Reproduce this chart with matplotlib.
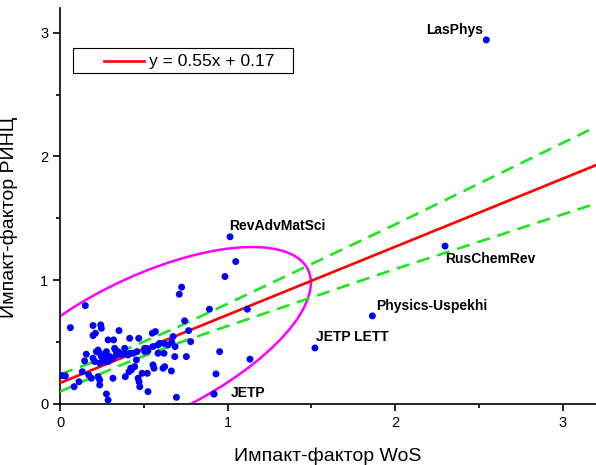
import numpy as np
import matplotlib.pyplot as plt
from matplotlib.patches import Ellipse, Rectangle
from matplotlib.ticker import MultipleLocator

plt.rcParams['font.family'] = ['Liberation Sans', 'DejaVu Sans']

# journals: impact factor WoS (x) vs RINC (y)
wos = [0.062, 0.197, 0.243, 0.247, 0.197, 0.211, 0.352, 0.287, 0.320, 0.416,
       0.470, 0.551, 0.569, 0.744, 0.768, 0.780, 0.675, 0.685, 0.754, 0.665,
       0.625, 0.621, 0.585, 0.645, 0.667, 0.525, 0.506, 0.515, 0.555, 0.561,
       0.521, 0.525, 0.466, 0.472, 0.476, 0.490, 0.422, 0.412, 0.390, 0.456,
       0.460, 0.436, 0.406, 0.386, 0.366, 0.346, 0.330, 0.336, 0.316, 0.296,
       0.277, 0.267, 0.247, 0.237, 0.217, 0.227, 0.197, 0.207, 0.157, 0.147,
       0.237, 0.267, 0.287, 0.316, 0.237, 0.237, 0.227, 0.187, 0.171, 0.133,
       0.084, 0.113, 0.012, 0.032, 0.277, 0.287, 0.386, 0.416, 0.326, 0.505,
       0.555, 0.595, 0.621, 0.695, 0.615, 0.585, 0.446, 0.426, 0.687,
       1.049, 0.985, 0.726, 0.712, 0.151, 0.892, 1.118, 0.953, 1.134, 0.931,
       0.919]
rinc = [0.617, 0.634, 0.639, 0.612, 0.553, 0.572, 0.593, 0.518, 0.518, 0.531,
        0.531, 0.572, 0.585, 0.672, 0.593, 0.504, 0.545, 0.383, 0.383, 0.267,
        0.302, 0.410, 0.477, 0.477, 0.500, 0.429, 0.423, 0.450, 0.316, 0.289,
        0.248, 0.100, 0.208, 0.180, 0.140, 0.248, 0.289, 0.261, 0.221, 0.356,
        0.423, 0.410, 0.396, 0.410, 0.400, 0.423, 0.437, 0.396, 0.370, 0.383,
        0.423, 0.396, 0.383, 0.410, 0.423, 0.436, 0.370, 0.343, 0.402, 0.348,
        0.330, 0.343, 0.343, 0.208, 0.194, 0.154, 0.221, 0.208, 0.235, 0.261,
        0.140, 0.180, 0.229, 0.227, 0.081, 0.032, 0.450, 0.410, 0.450, 0.450,
        0.464, 0.490, 0.490, 0.054, 0.289, 0.410, 0.302, 0.275, 0.464,
        1.151, 1.030, 0.944, 0.887, 0.795, 0.766, 0.766, 0.423, 0.362, 0.243,
        0.081]

# named journals
named = ['LasPhys', 'RusChemRev', 'Physics-Uspekhi', 'JETP LETT', 'RevAdvMatSci', 'JETP']
named_x = [2.545, 2.299, 1.865, 1.522, 1.015, 0.919]
named_y = [2.942, 1.276, 0.712, 0.453, 1.351, 0.081]
label_off = [(-2, 2, 'right', 'bottom'), (0, -4, 'left', 'top'), (3, 2, 'left', 'bottom'),
             (1, 3, 'left', 'bottom'), (-1, 3, 'left', 'bottom'), (12, 1, 'left', 'center')]

# regression line and confidence band
fit_label = 'y = 0.55x + 0.17'
fit_x = [0, 3.2]
fit_y = [0.17, 1.93]
band_x = [0, 0.2, 0.4, 0.7, 1.0, 1.5, 2.0, 2.5, 3.2]
band_up = [0.24, 0.34, 0.445, 0.62, 0.81, 1.13, 1.45, 1.78, 2.24]
band_lo = [0.10, 0.22, 0.335, 0.49, 0.63, 0.86, 1.09, 1.31, 1.62]

fig = plt.figure(figsize=(5.96, 4.65), dpi=100)
ax = fig.add_axes([0.1007, 0.1312, 0.8993, 0.8516])

ax.add_patch(Ellipse((0.52, 0.46), 2.31, 1.05, angle=36.7, fill=False,
                     edgecolor='#ff00ff', linewidth=1.8, zorder=2))
ax.plot(band_x, band_up, color='#1ee61e', linestyle=(0, (5, 3)), linewidth=1.9, zorder=3)
ax.plot(band_x, band_lo, color='#1ee61e', linestyle=(0, (5, 3)), linewidth=1.9, zorder=3)
ax.plot(fit_x, fit_y, color='#ff0000', linewidth=1.9, zorder=4)
ax.scatter(wos + named_x, rinc + named_y, s=25, color='#0000ff', edgecolors='none', zorder=5)

for name, x, y, (dx, dy, ha, va) in zip(named, named_x, named_y, label_off):
    ax.annotate(name, (x, y), xytext=(dx, dy), textcoords='offset points',
                ha=ha, va=va, fontsize=10, fontweight='bold')

# legend box drawn by hand to match the original spacing
ax.add_patch(Rectangle((0.0243, 0.836), 0.41, 0.063, transform=ax.transAxes,
                       fill=False, edgecolor='black', linewidth=0.8, zorder=6))
ax.plot([0.082, 0.157], [0.867, 0.867], transform=ax.transAxes,
        color='#ff0000', linewidth=1.9, zorder=6)
ax.text(0.166, 0.866, fit_label, transform=ax.transAxes, fontsize=12.5,
        va='center', ha='left', zorder=6)

ax.set_xlim(0, 3.2)
ax.set_ylim(0, 3.2)
ax.xaxis.set_major_locator(MultipleLocator(1))
ax.xaxis.set_minor_locator(MultipleLocator(0.5))
ax.yaxis.set_major_locator(MultipleLocator(1))
ax.yaxis.set_minor_locator(MultipleLocator(0.5))
ax.tick_params(which='major', length=5, width=1.2, labelsize=10.5, direction='out')
ax.tick_params(which='minor', length=3, width=1.2, direction='out')
for side in ['top', 'right']:
    ax.spines[side].set_visible(False)
for side in ['left', 'bottom']:
    ax.spines[side].set_linewidth(1.2)

ax.set_xlabel('Импакт-фактор WoS', fontsize=14, labelpad=13)
ax.set_ylabel('Импакт-фактор РИНЦ', fontsize=14, labelpad=8)
ax.yaxis.set_label_coords(-0.078, 0.47)

fig.savefig('out.png', dpi=100)
